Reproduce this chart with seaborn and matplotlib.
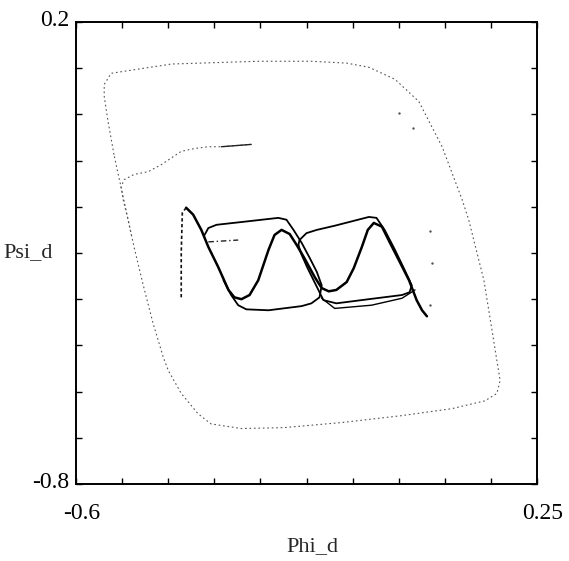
import numpy as np
import matplotlib
matplotlib.use("Agg")
import matplotlib.pyplot as plt
import matplotlib.transforms as mtransforms
import seaborn as sns

# outer transient loop (dotted)
outer_phi = [-0.530, -0.541, -0.548, -0.548, -0.535, -0.513, -0.424, -0.264, -0.166, -0.101,
             -0.060, -0.012, 0.032, 0.075, 0.112, 0.124, 0.152, 0.167, 0.176, 0.182,
             0.176, 0.154, 0.093, 0.001, -0.110, -0.216, -0.295, -0.351, -0.375, -0.406,
             -0.430, -0.439, -0.458, -0.476, -0.493, -0.504, -0.517, -0.524, -0.530]
outer_psi = [-0.087, -0.015, 0.039, 0.065, 0.089, 0.093, 0.109, 0.115, 0.115, 0.111,
             0.102, 0.076, 0.028, -0.070, -0.185, -0.228, -0.359, -0.467, -0.533, -0.576,
             -0.604, -0.620, -0.637, -0.652, -0.667, -0.678, -0.680, -0.670, -0.648, -0.604,
             -0.554, -0.526, -0.452, -0.370, -0.287, -0.228, -0.157, -0.120, -0.087]

# inner transient (dotted, solid near its start)
inner_phi = [-0.277, -0.332, -0.356, -0.382, -0.406, -0.443, -0.467, -0.493, -0.511, -0.517,
             -0.513, -0.504, -0.498]
inner_psi = [-0.065, -0.070, -0.070, -0.074, -0.080, -0.109, -0.124, -0.130, -0.141, -0.157,
             -0.185, -0.228, -0.261]
seg_phi = [-0.332, -0.277]
seg_psi = [-0.070, -0.065]

# sparse stray points on the right
stray_phi = [-0.005, 0.021, 0.052, 0.056, 0.052]
stray_psi = [0.004, -0.030, -0.252, -0.322, -0.413]

# limit cycle
lead_phi = [-0.406, -0.406, -0.404, -0.397]
lead_psi = [-0.396, -0.300, -0.213, -0.202]

wave_phi = [-0.397, -0.384, -0.369, -0.356, -0.338, -0.319, -0.308, -0.295, -0.280, -0.264,
            -0.245, -0.234, -0.221, -0.206, -0.193, -0.179, -0.160, -0.147, -0.134, -0.120,
            -0.101, -0.088, -0.073, -0.062, -0.051, -0.036, -0.022, -0.005, 0.014, 0.028,
            0.038, 0.047]
wave_psi = [-0.202, -0.217, -0.250, -0.287, -0.330, -0.380, -0.396, -0.400, -0.391, -0.359,
            -0.293, -0.261, -0.250, -0.259, -0.283, -0.311, -0.352, -0.376, -0.383, -0.380,
            -0.363, -0.333, -0.287, -0.250, -0.235, -0.243, -0.276, -0.315, -0.359, -0.402,
            -0.424, -0.437]

loop1_phi = [-0.328, -0.314, -0.301, -0.286, -0.245, -0.184, -0.166, -0.151, -0.147, -0.156,
             -0.169, -0.184, -0.199, -0.212, -0.227, -0.295, -0.341, -0.356, -0.363]
loop1_psi = [-0.359, -0.391, -0.413, -0.422, -0.424, -0.415, -0.409, -0.396, -0.370, -0.341,
             -0.311, -0.278, -0.250, -0.228, -0.224, -0.233, -0.239, -0.246, -0.261]

loop2_phi = [-0.190, -0.188, -0.175, -0.156, -0.123, -0.060, -0.046, -0.031, -0.012, 0.006,
             0.019, 0.015, 0.001, -0.060, -0.120, -0.144, -0.151, -0.162, -0.173, -0.184,
             -0.190]
loop2_psi = [-0.283, -0.272, -0.257, -0.250, -0.241, -0.222, -0.224, -0.250, -0.293, -0.337,
             -0.370, -0.385, -0.391, -0.400, -0.409, -0.402, -0.385, -0.359, -0.333, -0.304,
             -0.283]

low_phi = [-0.147, -0.123, -0.055, 0.001, 0.025]
low_psi = [-0.398, -0.420, -0.413, -0.398, -0.380]

dash_phi = [-0.356, -0.301]
dash_psi = [-0.276, -0.272]

x_ticks = np.linspace(-0.6, 0.25, 11)
y_ticks = np.linspace(-0.8, 0.2, 11)
x_labels = ["-0.6"] + [""] * 9 + ["0.25"]
y_labels = ["-0.8"] + [""] * 9 + ["0.2"]

sns.set_theme(style="ticks")
plt.rcParams["font.family"] = ["Liberation Serif", "DejaVu Serif"]

fig = plt.figure(figsize=(5.69, 5.61), dpi=100)
ax = fig.add_axes([0.1336, 0.1373, 0.8102, 0.8235])

faint = dict(color="#555555", lw=0.8, linestyle=(0, (1.5, 2.5)))
sns.lineplot(x=outer_phi, y=outer_psi, sort=False, estimator=None, ax=ax, **faint)
sns.lineplot(x=inner_phi, y=inner_psi, sort=False, estimator=None, ax=ax, **faint)
sns.lineplot(x=seg_phi, y=seg_psi, sort=False, estimator=None, ax=ax, color="#222222", lw=1.0)
sns.scatterplot(x=stray_phi, y=stray_psi, ax=ax, color="#555555", s=3, linewidth=0)

sns.lineplot(x=lead_phi, y=lead_psi, sort=False, estimator=None, ax=ax,
             color="#111111", lw=1.2, linestyle=(0, (2, 1.5)))
sns.lineplot(x=wave_phi, y=wave_psi, sort=False, estimator=None, ax=ax, color="black", lw=1.8)
sns.lineplot(x=loop1_phi, y=loop1_psi, sort=False, estimator=None, ax=ax, color="black", lw=1.3)
sns.lineplot(x=loop2_phi, y=loop2_psi, sort=False, estimator=None, ax=ax, color="black", lw=1.3)
sns.lineplot(x=low_phi, y=low_psi, sort=False, estimator=None, ax=ax, color="black", lw=1.0)
sns.lineplot(x=dash_phi, y=dash_psi, sort=False, estimator=None, ax=ax,
             color="#222222", lw=1.0, linestyle=(0, (4, 2, 1, 2)))

ax.set_xlim(-0.6, 0.25)
ax.set_ylim(-0.8, 0.2)
ax.set_xticks(x_ticks)
ax.set_xticklabels(x_labels)
ax.set_yticks(y_ticks)
ax.set_yticklabels(y_labels)
ax.tick_params(direction="in", length=4, width=1.0, top=True, right=True,
               labelsize=17, color="black", labelcolor="black")
ax.tick_params(axis="x", pad=14)
ax.tick_params(axis="y", pad=5)
for s in ax.spines.values():
    s.set_visible(True)
    s.set_linewidth(1.4)
    s.set_color("black")

# nudge the end labels like the original
for lab in ax.get_yticklabels():
    lab.set_transform(lab.get_transform() +
                      mtransforms.ScaledTranslation(0, 3 / 72, fig.dpi_scale_trans))
for lab in ax.get_xticklabels():
    lab.set_transform(lab.get_transform() +
                      mtransforms.ScaledTranslation(4 / 72, 0, fig.dpi_scale_trans))

ax.set_xlabel("Phi_d", fontsize=16, ha="center", va="center")
ax.xaxis.set_label_coords(0.512, -0.136)
ax.set_ylabel("Psi_d", fontsize=16, rotation=0, ha="right", va="center")
ax.yaxis.set_label_coords(-0.05, 0.5)

fig.savefig("out.png", dpi=100)
